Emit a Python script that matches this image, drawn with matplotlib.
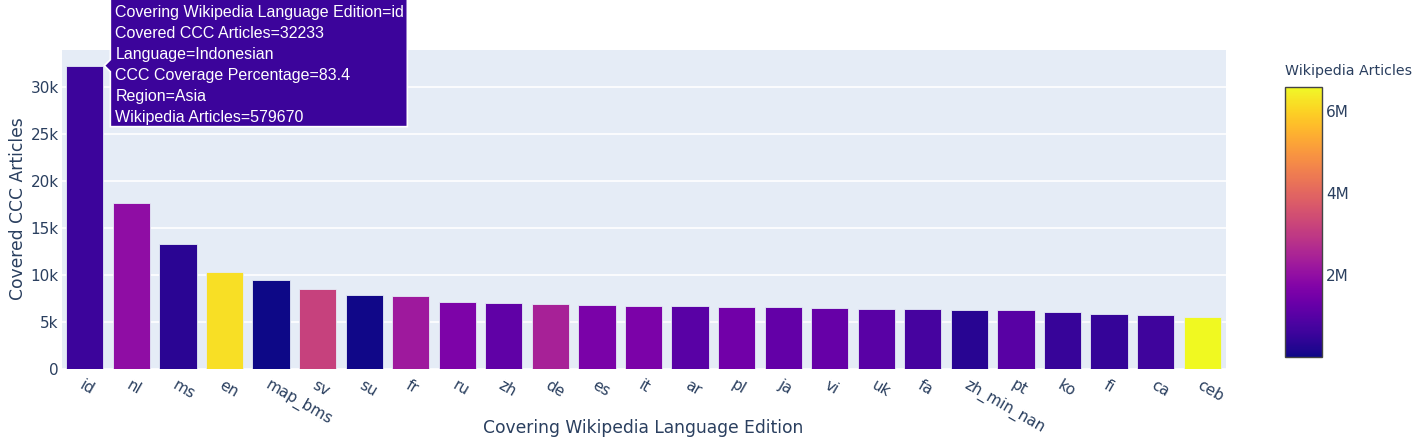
import numpy as np
import matplotlib.pyplot as plt
from matplotlib import cm
from matplotlib.colors import Normalize
from matplotlib.patches import Polygon

languages = ["id", "nl", "ms", "en", "map_bms", "sv", "su", "fr", "ru", "zh", "de", "es",
             "it", "ar", "pl", "ja", "vi", "uk", "fa", "zh_min_nan", "pt", "ko", "fi", "ca", "ceb"]
covered = [32233, 17630, 13270, 10350, 9470, 8510, 7840, 7770, 7100, 7050, 6950, 6770,
           6740, 6730, 6600, 6560, 6490, 6420, 6340, 6280, 6240, 6100, 5880, 5740, 5500]
wiki_articles = [579670, 1980000, 340000, 6200000, 13000, 3170000, 60000, 2250000, 1650000,
                 1150000, 2450000, 1600000, 1620000, 1050000, 1430000, 1220000, 1250000,
                 1050000, 740000, 300000, 1040000, 520000, 480000, 650000, 6590000]
yticks = [0, 5000, 10000, 15000, 20000, 25000, 30000]
ytick_labels = ["0", "5k", "10k", "15k", "20k", "25k", "30k"]
cb_ticks = [2e6, 4e6, 6e6]
cb_labels = ["2M", "4M", "6M"]

text_col = "#2a3f5f"
fig = plt.figure(figsize=(14.18, 4.4), dpi=100)
W, H = 1418, 440
ax = fig.add_axes([61.5 / W, 1 - 369 / H, (1225.5 - 61.5) / W, (369 - 50.5) / H])
ax.set_facecolor("#e5ecf6")

norm = Normalize(vmin=min(wiki_articles), vmax=max(wiki_articles))
cmap = plt.get_cmap("plasma")
x = np.arange(len(languages))
ax.bar(x, covered, width=0.8, color=cmap(norm(wiki_articles)), edgecolor="#e5ecf6",
       linewidth=0.6, zorder=3)

ax.set_xlim(-0.5, len(languages) - 0.5)
ax.set_ylim(0, max(covered) * 1.05)
ax.set_yticks(yticks)
ax.set_yticklabels(ytick_labels)
ax.grid(axis="y", color="white", linewidth=1.2, zorder=0)
ax.set_axisbelow(True)
for s in ax.spines.values():
    s.set_visible(False)
ax.tick_params(axis="both", length=0, labelsize=11, colors=text_col)
ax.tick_params(axis="y", pad=2)
ax.set_xticks(x)
ax.set_xticklabels(languages, rotation=-30, ha="left", va="top", rotation_mode="anchor")
ax.tick_params(axis="x", pad=6)

fig.text(643 / W, 1 - 428 / H, "Covering Wikipedia Language Edition", fontsize=12.3,
         color=text_col, ha="center", va="center")
fig.text(18 / W, 1 - 209 / H, "Covered CCC Articles", fontsize=12.3, color=text_col,
         ha="center", va="center", rotation=90)

# colorbar
cax = fig.add_axes([1285 / W, 1 - 357 / H, 37 / W, (357 - 86.7) / H])
cb = fig.colorbar(cm.ScalarMappable(norm=norm, cmap=cmap), cax=cax)
cb.set_ticks(cb_ticks)
cb.set_ticklabels(cb_labels)
cb.ax.tick_params(length=0, labelsize=11, colors=text_col, pad=3)
cb.outline.set_edgecolor("#444444")
cb.outline.set_linewidth(1)
fig.text(1285 / W, 1 - 71 / H, "Wikipedia Articles", fontsize=10.2, color=text_col,
         ha="left", va="center")

# hover tooltip on the first bar
fig.canvas.draw()
tip = ax.transData.transform((0.42, covered[0]))
box_col = cmap(norm(wiki_articles[0]))
bx0 = tip[0] + 6
bx1 = bx0 + 297
by1 = tip[1] + 67
by0 = by1 - 128
pts = [(bx0, by1), (bx1, by1), (bx1, by0), (bx0, by0), (bx0, tip[1] - 6),
       (tip[0], tip[1]), (bx0, tip[1] + 6)]
poly = Polygon(pts, closed=True, facecolor=box_col, edgecolor="white", linewidth=1.2,
               transform=None, zorder=10)
fig.patches.append(poly)
tip_lines = [
    "Covering Wikipedia Language Edition=id",
    "Covered CCC Articles=32233",
    "Language=Indonesian",
    "CCC Coverage Percentage=83.4",
    "Region=Asia",
    "Wikipedia Articles=579670",
]
for i, line in enumerate(tip_lines):
    fig.text((bx0 + 5) / W, (by1 - 14 - i * 21) / H, line, fontsize=11.5, color="white",
             family="Liberation Sans", ha="left", va="center", zorder=11)

fig.savefig("out.png", dpi=100)
